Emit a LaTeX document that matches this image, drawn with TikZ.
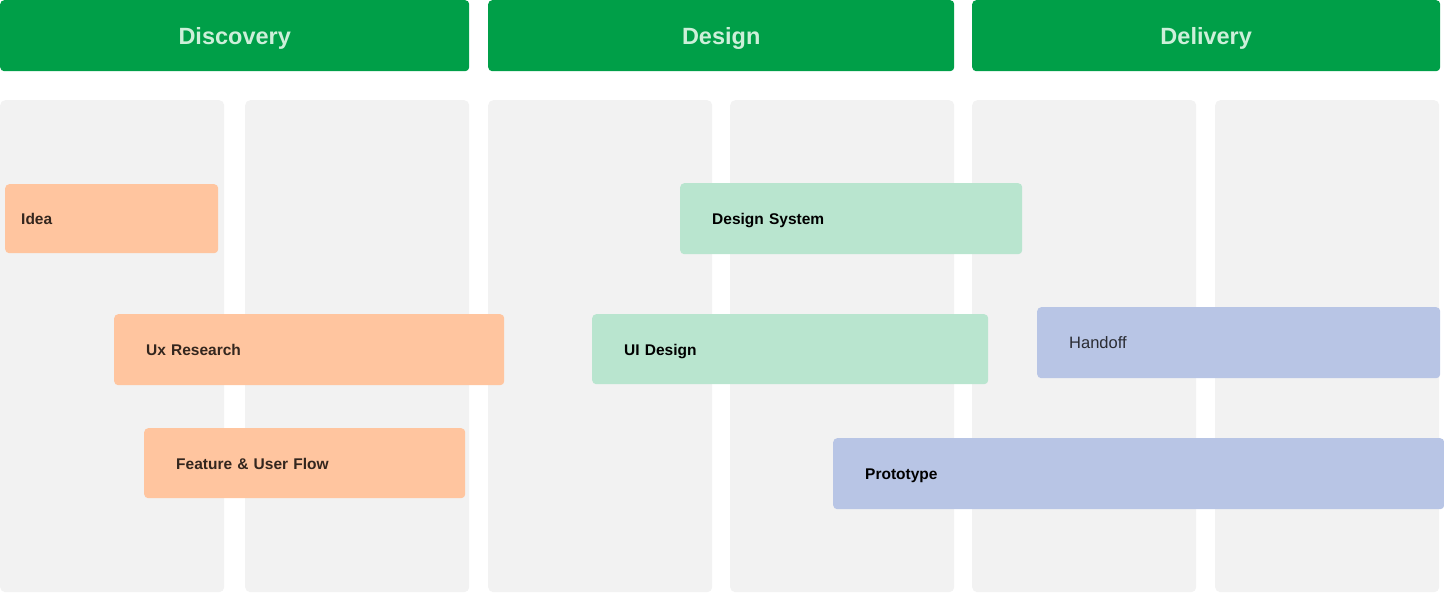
\documentclass[tikz,border=0pt]{standalone}
\usepackage{fontspec}
\setmainfont{Liberation Sans}
\definecolor{phasegreen}{HTML}{009F48}
\definecolor{phasetext}{HTML}{CDEFD9}
\definecolor{lanegray}{HTML}{F2F2F2}
\definecolor{orangebar}{HTML}{FFC59F}
\definecolor{orangetext}{HTML}{33261E}
\definecolor{greenbar}{HTML}{B9E5CF}
\definecolor{bluebar}{HTML}{B8C5E5}
\definecolor{bluetext}{HTML}{2A2C33}
\tikzset{
  phase/.style={fill=phasegreen, text=phasetext, rounded corners=4pt,
    minimum height=71pt, inner sep=0pt, anchor=north west,
    text depth=-3pt, font=\fontsize{23.5}{28}\selectfont\bfseries},
  lane/.style={fill=lanegray, rounded corners=5pt, minimum height=492pt,
    minimum width=224pt, inner sep=0pt, anchor=north west},
  bar/.style={rounded corners=4pt, minimum height=70pt, inner ysep=0pt,
    inner xsep=32pt, anchor=north west, align=left,
    text height=12pt, text depth=0pt,
    font=\fontsize{15.5}{19}\selectfont\bfseries},
  orange/.style={bar, fill=orangebar, text=orangetext},
  mint/.style={bar, fill=greenbar, text=black},
  blue/.style={bar, fill=bluebar, text=black},
}
\begin{document}
\begin{tikzpicture}[x=1pt, y=-1pt]
\useasboundingbox (0,0) rectangle (1444,593);

% phase headers
\node[phase, minimum width=469pt] (discovery) at (0,0) {Discovery};
\node[phase, minimum width=466pt] (design) at (488,0) {Design};
\node[phase, minimum width=468pt] (delivery) at (972,0) {Delivery};

% swim lanes
\node[lane] (l1) at (0,100) {};
\node[lane] (l2) at (245,100) {};
\node[lane] (l3) at (488,100) {};
\node[lane] (l4) at (730,100) {};
\node[lane] (l5) at (972,100) {};
\node[lane] (l6) at (1215,100) {};

% discovery tasks
\node[orange, minimum height=69pt, inner xsep=16pt, text width=181pt]
  (idea) at (5,184) {Idea};
\node[orange, minimum height=71pt, text width=326pt]
  (ux) at (114,314) {Ux Research};
\node[orange, text width=257pt]
  (flow) at (144,428) {Feature \& User Flow};

% design tasks
\node[mint, minimum height=71pt, text width=278pt]
  (dsys) at (680,183) {Design System};
\node[mint, text width=332pt]
  (ui) at (592,314) {UI Design};

% delivery tasks
\node[blue, minimum height=71pt, text width=339pt, text=bluetext,
  font=\fontsize{16.5}{20}\selectfont]
  (handoff) at (1037,307) {Handoff};
\node[blue, minimum height=71pt, text width=547pt]
  (proto) at (833,438) {Prototype};
\end{tikzpicture}
\end{document}
